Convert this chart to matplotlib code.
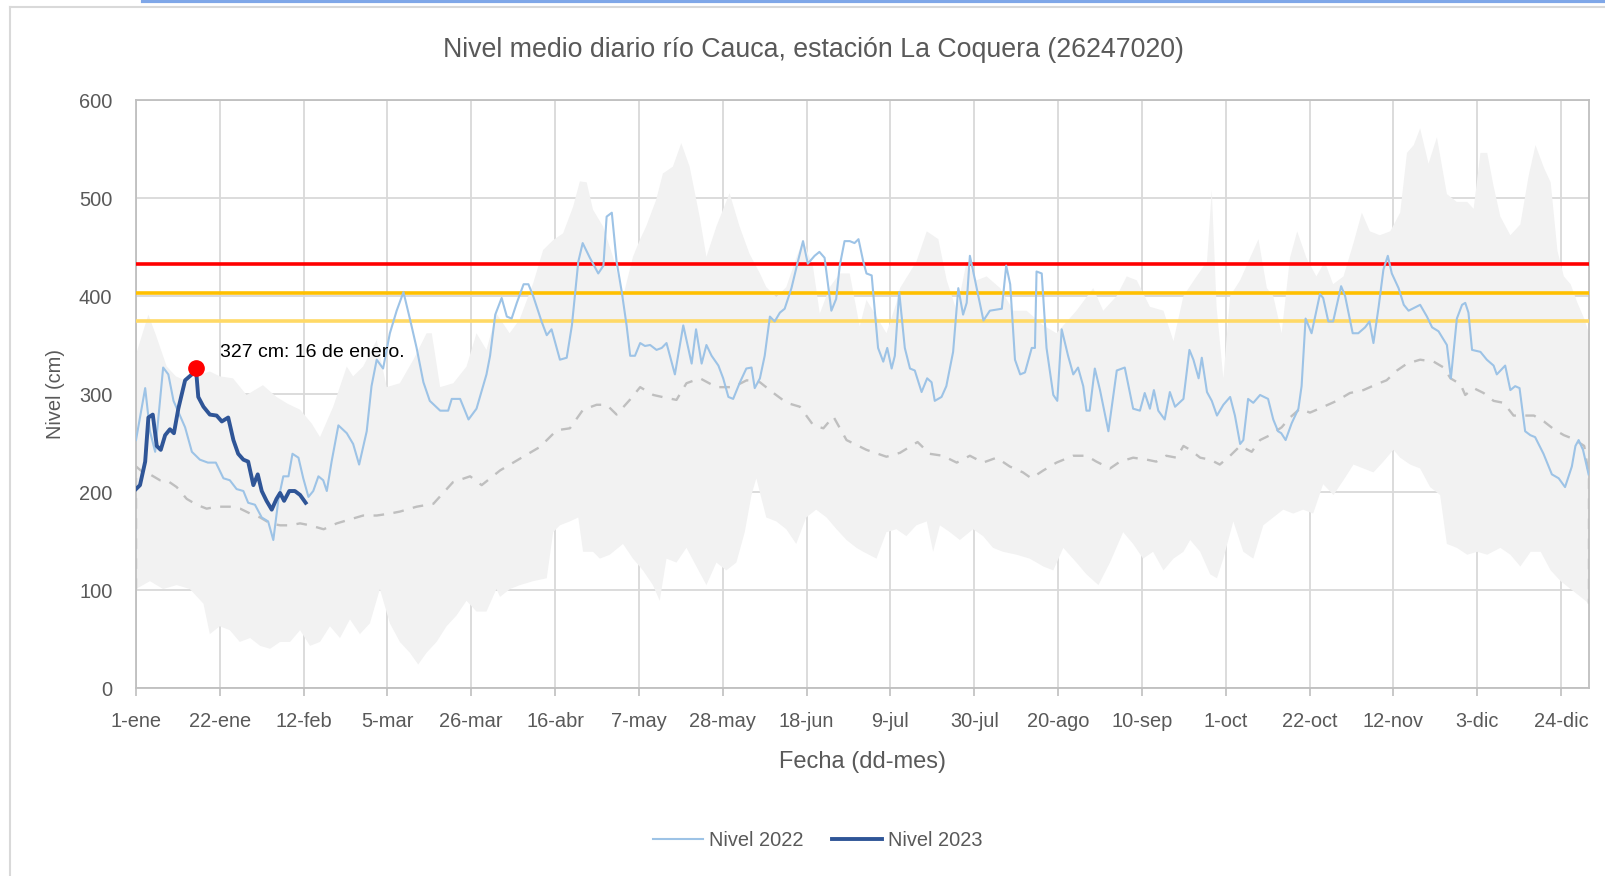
import numpy as np
import matplotlib
matplotlib.use("Agg")
import matplotlib.pyplot as plt
from matplotlib import font_manager
from matplotlib.lines import Line2D

# ---------------- data ----------------
tick_days = [0, 21, 42, 63, 84, 105, 126, 147, 168, 189, 210, 231, 252, 273, 294, 315, 336, 357]
tick_labels = ["1-ene", "22-ene", "12-feb", "5-mar", "26-mar", "16-abr", "7-may", "28-may",
               "18-jun", "9-jul", "30-jul", "20-ago", "10-sep", "1-oct", "22-oct", "12-nov",
               "3-dic", "24-dic"]
y_ticks = [0, 100, 200, 300, 400, 500, 600]

# alert thresholds (cm)
thresholds = [433, 403, 374]
threshold_colors = ["#FF0000", "#FFC000", "#FFD966"]

# Nivel 2022
days_2022 = [0, 2.3, 3.5, 4.8, 6.8, 8.1, 9.4, 11, 12.3, 14, 16, 18, 20, 21.9, 23.5, 25.2, 26.9, 28.1, 29.8, 31.5,
             33.1, 34.4, 35.7, 36.9, 38.2, 39.2, 40.7, 41.9, 43.2, 44.4, 45.7, 46.9, 47.8, 49, 50.7, 52.8, 54.4, 55.9, 57.8, 59,
             60.3, 61.9, 63.6, 65.3, 67, 68.6, 70.3, 72, 73.6, 76.2, 78.2, 79.1, 81.2, 83.3, 85.3, 87.8,
             88.7, 90, 91.6, 92.9, 94.1, 95.4, 97.1, 98.3, 99.5, 101.6, 102.9, 104.1, 106.2, 107.9, 109.2, 110.8, 111.9, 113.7, 115.8, 117.1,
             117.9, 119.2, 120.4, 121.7, 122.9, 123.8, 125, 126.3, 127.5, 128.8, 130.4, 131.7, 132.9, 135, 137.1, 139.2, 140.3, 141.7, 142.9, 144.2,
             145.9, 147.1, 148.4, 149.6, 151.3, 152.9, 154.2, 155, 156.3, 157.5, 158.8, 160, 161.3, 162.5, 164.2, 165.8, 167.1, 168.3, 170, 171.2,
             172.5, 174.2, 175.4, 176.3, 177.5, 178.8, 180,
             181, 182.2, 183, 184.3, 185.9, 187.2, 188.2, 189.3, 190.1, 191.2, 192.6, 193.9, 195.1, 196.8, 198.2, 199.3, 200.1, 201.8, 203, 204.7,
             206, 207.2, 208.1, 208.9, 210.2, 212.3, 213.9, 216.9, 218, 219, 220.2, 221.5, 222.7, 224.4, 225.2, 225.6, 226.9, 228.1, 229.8, 230.8,
             231.9, 233.5, 234.8, 236, 237.3, 238.1, 238.9, 240.2, 241.5, 243.6, 245.7, 247.7, 249.8, 251.5, 252.7, 254, 255, 256.1, 257.7, 259,
             260.3, 262.4, 263.9, 264.9, 266.2, 267, 268.3, 269.5, 270.8,
             272.4, 274.1, 275.3, 276.6, 277.4, 278.6, 279.9, 281.6, 283.6, 284.9, 286.1, 286.9, 288, 289.5, 291.2, 292, 293, 294.5, 296.6, 297.4,
             298.7, 299.9, 301.9, 302.9, 304.8, 306.2, 307.9, 309, 310, 311.3, 312.5, 313.6, 314.6, 316.3, 317.6, 318.8, 321.7, 323.4, 324.7, 326.3,
             328.4, 329.4, 330.9, 332.2, 333, 333.8, 334.7, 336.8, 338.4, 340.1, 340.9, 343, 344.3, 345.5, 346.6, 348, 349.3, 350.5, 352.6, 354.7,
             356.4, 358, 359.7, 360.6, 361.4, 362.5, 363.9]
nivel_2022 = [253, 306, 262, 241, 327, 320, 293, 278, 266, 241, 233, 230, 230, 214, 212, 203, 201, 189, 187, 174,
              170, 151, 193, 216, 216, 239, 235, 214, 195, 201, 216, 212, 201, 231, 268, 260, 249, 228, 262, 308,
              335, 326, 362, 385, 404, 377, 347, 312, 293, 283, 283, 295, 295, 274, 285, 320,
              339, 381, 398, 379, 377, 393, 412, 412, 400, 374, 360, 366, 335, 337, 370, 435, 454, 439, 423, 431,
              481, 485, 435, 404, 370, 339, 339, 352, 349, 350, 345, 347, 352, 320, 370, 331, 366, 331, 350, 339,
              329, 316, 297, 295, 312, 326, 327, 306, 316, 339, 379, 374, 383, 387, 408, 435, 456, 433, 441, 445,
              439, 385, 397, 431, 456, 456, 454,
              458, 435, 423, 421, 347, 333, 347, 326, 339, 404, 347, 326, 324, 302, 316, 312, 293, 297, 308, 343,
              408, 381, 393, 441, 416, 375, 385, 387, 431, 412, 335, 320, 322, 347, 347, 425, 423, 347, 299, 293,
              366, 339, 320, 327, 308, 283, 283, 326, 304, 262, 324, 327, 285, 283, 301, 285, 304, 283, 274, 302,
              287, 295, 345, 335, 316, 337, 302, 293, 278,
              289, 297, 278, 249, 253, 295, 291, 299, 295, 274, 262, 260, 253, 270, 285, 308, 377, 362, 402, 398,
              374, 374, 410, 400, 362, 362, 368, 374, 352, 389, 427, 441, 423, 408, 391, 385, 391, 379, 368, 364,
              350, 316, 377, 391, 393, 383, 345, 343, 335, 329, 320, 329, 304, 308, 306, 262, 258, 256, 239, 218,
              214, 205, 226, 247, 253, 243, 218]

# Nivel 2023
days_2023 = [0, 1, 2.3, 3.1, 4.2, 5.2, 6.2, 7.3, 8.5, 9.5, 10.6, 12.3, 14, 15, 15.6, 16.9, 18.5, 20.2,
             21.5, 23.1, 24.4, 25.6, 26.9, 28.1, 29.4, 30.5, 31.5, 32.7, 34, 35.2, 36.1, 37.1, 38.4, 39.8, 41.1, 42.5]
nivel_2023 = [203, 207, 231, 276, 279, 247, 243, 258, 264, 260, 285, 314, 320, 327, 297, 287, 279, 278,
              272, 276, 253, 239, 233, 231, 207, 218, 201, 191, 182, 193, 199, 191, 201, 201, 197, 189]
peak_day = 15
peak_value = 327
peak_text = "327 cm: 16 de enero."

# historical mean (dashed)
days_mean = [0, 0, 1.8, 3.5, 6, 7.7, 10.2, 12.7, 15.2, 17.7, 20.2, 23.5, 26.1, 28.6, 31.1, 33.6, 36.1, 38.6, 41.1, 43.6,
             47, 50.3, 53.6, 56.9, 60.3, 63.6, 66.1, 70.3, 74.5, 79.4, 83.7, 86.6, 91.2, 97, 101.2, 105.4, 108.7, 112, 115.4, 117.9,
             120.4, 123.7, 126.3, 129.6, 132.9, 135.4, 137.9, 141.3, 145.4, 149.6, 153, 156.3, 159.7, 163, 166.3, 169.7, 172.2, 174.7, 178, 183,
             188, 191.4, 195.8, 198.8, 202.1, 205.6, 208.9, 212.2, 215.6, 218.9, 222.2, 224.3, 227.3, 230.6, 234.8, 238.1, 240.6, 244, 246.5, 249.8,
             253.2, 255.6, 258.1, 260.7, 262.4, 264.1, 266.6, 269.1, 271.5, 274.1, 276.6, 279.5, 281.6, 284.1, 287, 289.1, 291.6, 294.1, 297.5, 300.8,
             304.1, 307.5, 310.8, 313.3, 315.9, 318.4, 321.7, 325.1, 327.6, 329.3, 331.8, 333, 335.1, 337.6, 340.1, 342.6, 345.1, 347.6, 350.2, 352.7,
             355.2, 357.7, 360.2, 362.8, 364, 364]
nivel_medio = [101, 226, 220, 218, 212, 212, 205, 193, 187, 183, 185, 185, 183, 178, 174, 168, 166, 166, 168, 166,
               162, 168, 172, 176, 176, 178, 180, 185, 188, 210, 216, 207, 222, 236, 246, 263, 265, 284, 289, 289,
               279, 294, 307, 299, 296, 294, 311, 316, 307, 307, 314, 312, 301, 291, 287, 268, 265, 277, 253, 243,
               236, 240, 251, 239, 237, 230, 237, 230, 235, 226, 220, 214, 222, 230, 237, 237, 231, 224, 231, 235,
               233, 231, 237, 235, 247, 243, 235, 233, 228, 237, 247, 241, 253, 258, 266, 276, 285, 281, 287, 293,
               301, 304, 310, 314, 324, 331, 335, 333, 327, 316, 310, 299, 306, 301, 293, 291, 278, 278, 278, 272,
               264, 258, 254, 247, 216, 86]

# historical maximum (upper edge of grey band)
days_max = [0, 1.5, 3.1, 5, 7.7, 10, 12.7, 15, 18.5, 21, 24.3, 27.7, 31.8, 35.2, 38, 41.1, 44, 46.1, 49.4, 52.8,
            54.4, 56.9, 60.3, 62.8, 66.1, 69.5, 72.8, 74.1, 76.2, 79.5, 82.8, 85.3, 87.8, 90.3, 93.6, 96.1, 99.5, 102, 104.5, 107,
            109.5, 111.2, 112.9, 114.5, 117, 119.5, 122, 124.5, 126.2, 127.8, 130.3, 132, 134.5, 136.6, 138.7, 141.2, 142.9, 145.4, 148.7, 151.2,
            153.7, 156.3, 157.9, 160.4, 162.9, 165.5, 167.1, 169.6, 171.3, 173.8, 176.3, 178.8, 181.3, 183, 185.5, 188, 190.5, 191.4, 195.5, 198.1,
            201, 203.1, 205.6, 208.1, 210.6, 213.1, 216.5, 219.8, 223.1, 227.3, 230.6, 235.6, 239.8, 242.3, 245.7, 248.2, 250.7, 254, 257.4, 259.9,
            262.4, 265.7, 268.3, 269.5, 270.7, 272.4, 274.1, 276.6, 279.1, 281.2, 283.3, 284.9, 287, 289.1, 290.9, 293.2, 295.7, 297.8, 299.9, 302.5,
            305, 307.1, 309.1, 311.6, 314.2, 316.7, 318.4, 320.1, 321.7, 323.8, 325.9, 328.4, 330.9, 333.5, 335.1, 336.8, 338.5, 340.1, 341.8, 344.3,
            346.8, 348.9, 350.6, 352.7, 354.4, 356.1, 357.7, 359.4, 361.1, 362.8, 364]
nivel_max = [340, 360, 381, 360, 328, 318, 313, 318, 323, 318, 316, 299, 309, 297, 290, 284, 270, 256, 287, 328,
             318, 328, 355, 307, 311, 335, 362, 362, 307, 311, 328, 362, 345, 382, 362, 376, 413, 447, 457, 464,
             491, 517, 516, 488, 471, 440, 399, 440, 457, 471, 498, 525, 532, 556, 532, 481, 440, 471, 505, 471,
             443, 423, 409, 399, 409, 440, 457, 430, 382, 409, 423, 423, 369, 396, 379, 362, 393, 408, 435, 466,
             458, 416, 385, 435, 416, 420, 408, 385, 385, 370, 362, 385, 408, 385, 400, 420, 416, 389, 385, 354,
             400, 420, 435, 508, 389, 316, 400, 416, 439, 458, 408, 400, 362, 439, 466, 439, 420, 435, 412, 420,
             454, 485, 466, 462, 466, 485, 546, 554, 571, 535, 562, 504, 496, 496, 489, 546, 546, 512, 481, 462,
             473, 523, 554, 531, 516, 446, 420, 412, 393, 377, 362]

# historical minimum (lower edge of grey band)
days_min = [0, 3.5, 6.8, 10.2, 13.5, 16.9, 18.5, 21, 23.5, 26, 28.6, 31.1, 33.6, 36.1, 38.6, 41.1, 43.6, 46.1, 48.6, 51.1,
            53.6, 56.1, 58.6, 61.1, 63.6, 66.1, 68.6, 70.7, 72.8, 75.3, 77.8, 80.3, 82.8, 85.3, 87.8, 90.3, 91.2, 93.7, 96.2, 99.5,
            102.9, 104.5, 106.2, 108.7, 110.8, 112, 114.5, 116.2, 118.7, 122, 124.5, 127, 129.5, 131.2, 132.9, 135.4, 137.9, 140.4, 142.9, 145.4,
            147.9, 150.4, 152.5, 154.2, 155.4, 156.7, 157.9, 160.4, 162.9, 165.4, 167.9, 170.4, 173, 175.5, 178, 180.5, 182.2, 185.5, 188, 190.5,
            193, 195.5, 198.1, 199.7, 201.4, 203.9, 206.4, 209.7, 212.2, 214.7, 217.2, 220.6, 223.9, 227.3, 229.8, 232.3, 235.6, 238.1, 241.1, 244,
            247.3, 249.8, 252.3, 254.8, 257.4, 259.9, 262.4, 264.1, 266.6, 269.1, 270.8, 272.4, 274.9, 277.4, 279.9, 282.4, 284.9, 287.4, 289.9, 292.4,
            294.9, 297.4, 300, 302.5, 305, 307.5, 310, 312.5, 315, 316.7, 319.2, 321.7, 324.2, 326.7, 328.4, 330.9, 333.5, 336, 338.5, 341.8,
            344.3, 346.8, 349.4, 351.9, 354.4, 356.9, 359.4, 361.9, 364]
nivel_min = [101, 109, 101, 105, 101, 86, 55, 63, 59, 47, 51, 43, 40, 47, 47, 59, 43, 47, 63, 51,
             70, 55, 66, 101, 66, 47, 36, 24, 36, 47, 63, 74, 89, 78, 78, 101, 93, 101, 105, 109,
             112, 159, 166, 170, 174, 139, 139, 132, 136, 147, 132, 120, 105, 89, 132, 128, 143, 124, 105, 128,
             120, 128, 159, 197, 214, 193, 174, 170, 162, 147, 174, 182, 174, 162, 151, 143, 139, 132, 159, 162,
             155, 166, 170, 139, 166, 159, 151, 162, 155, 143, 139, 136, 132, 124, 120, 143, 128, 116, 105, 128,
             159, 147, 132, 139, 120, 132, 139, 151, 139, 116, 112, 132, 170, 139, 132, 166, 174, 182, 178, 182,
             178, 208, 197, 212, 228, 224, 220, 231, 243, 235, 228, 224, 205, 197, 147, 143, 136, 139, 136, 143,
             136, 124, 139, 139, 120, 109, 101, 93, 86]

# ---------------- fonts ----------------
names = {f.name for f in font_manager.fontManager.ttflist}
if "Liberation Sans Narrow" in names:
    NARROW, k = "Liberation Sans Narrow", 1.0
else:
    NARROW, k = "Liberation Sans", 0.85
REG = "Liberation Sans"
GREY_TXT = "#595959"

# ---------------- figure ----------------
W, H = 1606, 876
fig = plt.figure(figsize=(W / 100, H / 100), dpi=100)
ax = fig.add_axes([136 / W, (H - 688) / H, (1589 - 136) / W, (688 - 100) / H])

# grey historical band
band_x = np.r_[np.asarray(days_max), np.asarray(days_min)[::-1]]
band_y = np.r_[np.asarray(nivel_max), np.asarray(nivel_min)[::-1]]
ax.fill(band_x, band_y, color="#F2F2F2", lw=0, zorder=1)

# mean dashed
ax.plot(days_mean, nivel_medio, color="#BFBFBF", lw=1.7, ls=(0, (4.5, 4)), zorder=2)

# thresholds
for val, col in zip(thresholds, threshold_colors):
    ax.axhline(val, color=col, lw=2.6, zorder=3)

l22, = ax.plot(days_2022, nivel_2022, color="#9DC3E6", lw=1.5, zorder=4, label="Nivel 2022")
l23, = ax.plot(days_2023, nivel_2023, color="#2F5597", lw=2.8, zorder=5, label="Nivel 2023",
               solid_joinstyle="round")
ax.plot([peak_day], [peak_value], "o", color="#FF0000", ms=11, zorder=6)
ax.text(21, 342, peak_text, family=REG, fontsize=14, color="black", va="center", ha="left", zorder=7)

ax.set_xlim(0, 364)
ax.set_ylim(0, 600)
ax.set_xticks(tick_days)
ax.set_xticklabels(tick_labels)
ax.set_yticks(y_ticks)
ax.set_axisbelow(True)
ax.grid(True, color="#D9D9D9", lw=1.3)
for sp in ax.spines.values():
    sp.set_color("#BFBFBF")
    sp.set_linewidth(1.3)
ax.tick_params(axis="x", length=6, width=1.2, color="#BFBFBF", pad=11, labelsize=17 * k,
               labelcolor=GREY_TXT)
ax.tick_params(axis="y", length=0, pad=17, labelsize=17 * k, labelcolor=GREY_TXT)
for lab in ax.get_xticklabels() + ax.get_yticklabels():
    lab.set_family(NARROW)

ax.set_xlabel("Fecha (dd-mes)", family=REG, fontsize=17, color=GREY_TXT, labelpad=15)
ax.set_ylabel("Nivel (cm)", family=NARROW, fontsize=17 * k, color=GREY_TXT, labelpad=10)

fig.text(813 / W, 1 - 50 / H, "Nivel medio diario río Cauca, estación La Coquera (26247020)",
         family=NARROW, fontsize=19.3 if k < 1 else 22, color=GREY_TXT, ha="center", va="center")

leg = fig.legend(handles=[l22, l23], labels=["Nivel 2022", "Nivel 2023"], loc="center",
                 bbox_to_anchor=(818 / W, 1 - 841 / H), ncol=2, frameon=False,
                 handlelength=2.5, handletextpad=0.3, columnspacing=1.4,
                 prop={"family": NARROW, "size": 17 * k})
for t in leg.get_texts():
    t.set_color(GREY_TXT)

# outer chart-frame decorations
fig.add_artist(Line2D([10 / W, 10 / W], [0, 1 - 7 / H], color="#D9D9D9", lw=1.5))
fig.add_artist(Line2D([10 / W, 1], [1 - 7 / H, 1 - 7 / H], color="#D9D9D9", lw=1.5))
fig.add_artist(Line2D([143 / W, 1], [1 - 1 / H, 1 - 1 / H], color="#7FA7E8", lw=3))

fig.savefig("out.png", dpi=100)
